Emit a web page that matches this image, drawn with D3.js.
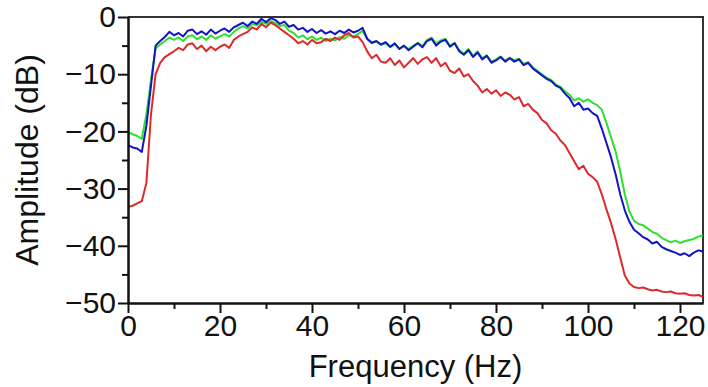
<!DOCTYPE html>
<html>
<head>
<meta charset="utf-8">
<script src="https://cdn.jsdelivr.net/npm/d3@7"></script>
<style>
  body { margin: 0; background: #fff; }
  svg text { font-family: "Liberation Sans", Arial, Helvetica, sans-serif; fill: #111; }
</style>
</head>
<body>
<div id="chart"></div>
<script>

// frequency grid, 1 Hz steps, 0..125
const freq = d3.range(0, 126);

// amplitude (dB) per series
const greenAmp = [
  -20.1, -20.5, -20.8, -21.3, -17.0, -11.0, -5.5, -4.8, -4.2, -3.6,
  -4.0, -3.6, -4.2, -3.4, -3.2, -3.9, -3.4, -4.0, -3.2, -3.8,
  -3.4, -3.0, -3.4, -2.6, -2.0, -1.6, -2.0, -1.2, -1.5, -0.8,
  -1.2, -0.7, -1.0, -1.6, -1.4, -2.4, -2.8, -3.6, -3.2, -3.9,
  -3.4, -4.0, -3.6, -4.2, -3.8, -4.1, -3.5, -3.8, -3.2, -3.4,
  -3.0, -2.4, -3.9, -4.6, -4.3, -4.9, -4.6, -5.3, -4.8, -5.5,
  -5.1, -5.6, -5.0, -4.5, -5.1, -4.0, -3.6, -4.6, -4.1, -3.8,
  -5.0, -4.5, -5.8, -6.4, -5.6, -6.8, -6.0, -7.2, -6.7, -7.8,
  -7.4, -6.9, -7.6, -7.1, -7.6, -7.3, -8.2, -7.9, -8.8, -9.4,
  -10.0, -10.6, -11.0, -11.8, -12.2, -13.0, -13.6, -14.6, -14.2, -14.8,
  -14.4, -15.0, -15.4, -16.2, -18.5, -21.0, -23.5, -27.0, -31.0, -34.0,
  -35.6, -36.2, -36.4, -37.0, -37.6, -37.9, -38.6, -39.0, -39.4, -39.1,
  -39.5, -39.2, -39.0, -38.8, -38.4, -38.2
];

const blueAmp = [
  -22.4, -22.8, -23.0, -23.6, -19.0, -12.0, -5.0, -4.2, -3.5, -2.6,
  -3.2, -2.8, -3.4, -2.4, -2.2, -3.0, -2.5, -3.1, -2.2, -2.9,
  -2.4, -2.0, -2.6, -1.8, -1.4, -1.0, -1.6, -0.8, -1.2, -0.3,
  -0.9, -0.2, -0.5, -1.2, -0.8, -1.7, -1.4, -2.2, -1.9, -2.6,
  -2.1, -2.8, -2.3, -2.9, -2.5, -3.0, -2.4, -2.8, -2.2, -2.7,
  -2.4, -1.9, -3.8, -4.5, -4.2, -4.8, -4.4, -5.2, -4.6, -5.6,
  -5.0, -5.8, -5.2, -4.6, -5.3, -4.2, -3.8, -5.0, -4.3, -4.0,
  -5.2, -4.6, -6.0, -6.6, -5.8, -7.0, -6.2, -7.4, -6.8, -8.0,
  -7.6, -7.0, -7.8, -7.2, -7.8, -7.4, -8.4, -8.0, -9.0, -9.6,
  -10.2, -10.8, -11.2, -12.0, -12.4, -13.4, -14.2, -15.6, -15.0, -16.2,
  -16.0, -16.8, -17.3, -19.5, -22.0, -24.5, -27.5, -31.0, -33.8, -35.8,
  -37.2, -37.8, -38.5, -38.9, -39.6, -39.3, -40.2, -40.6, -40.9, -41.2,
  -41.6, -41.3, -41.8, -41.2, -40.8, -41.0
];

const redAmp = [
  -33.2, -33.0, -32.6, -32.2, -29.0, -17.0, -10.0, -8.0, -7.0, -6.5,
  -6.0, -5.4, -5.8, -4.8, -4.6, -5.6, -5.0, -6.0, -5.2, -5.8,
  -5.2, -4.8, -5.4, -4.0, -3.4, -3.0, -2.6, -1.8, -2.2, -1.2,
  -1.8, -1.0, -1.4, -2.0, -2.6, -3.2, -3.8, -4.6, -4.2, -4.8,
  -4.0, -4.6, -4.4, -3.8, -4.2, -3.6, -4.0, -3.2, -2.8, -3.6,
  -3.4, -4.4, -6.0, -7.2, -6.6, -7.8, -8.0, -7.2, -8.4, -7.6,
  -8.8, -8.0, -7.2, -8.2, -7.4, -7.0, -8.0, -7.2, -8.6, -8.0,
  -9.4, -9.8, -9.0, -10.4, -10.0, -11.2, -12.0, -13.2, -12.6, -13.4,
  -12.8, -13.8, -13.2, -13.6, -14.4, -14.0, -15.6, -15.2, -16.2, -16.8,
  -18.0, -18.6, -19.8, -20.4, -21.6, -22.4, -23.8, -25.2, -26.6, -26.0,
  -27.4, -28.0, -28.8, -31.0, -33.6, -36.0, -38.8, -42.0, -45.2, -46.6,
  -47.2, -47.4, -47.3, -47.6, -47.8, -47.7, -48.0, -48.1, -48.0, -48.3,
  -48.4, -48.3, -48.6, -48.7, -48.6, -48.9
];

const xMajor = [0, 20, 40, 60, 80, 100, 120];
const xMinor = [10, 30, 50, 70, 90, 110];
const yMajor = [0, -10, -20, -30, -40, -50];
const yMinor = [-5, -15, -25, -35, -45];

const series = [
  { name: "green", color: "#2ee02e", values: greenAmp },
  { name: "red", color: "#dc2a2a", values: redAmp },
  { name: "blue", color: "#1414c4", values: blueAmp }
];

const margin = { top: 17, right: 5, bottom: 84, left: 128 };
const width = 708 - margin.left - margin.right;
const height = 387 - margin.top - margin.bottom;

const svg = d3.select("#chart").append("svg")
  .attr("width", 708)
  .attr("height", 387)
  .append("g")
  .attr("transform", "translate(" + margin.left + "," + margin.top + ")");

const x = d3.scaleLinear().domain([0, 125]).range([0, width]);
const y = d3.scaleLinear().domain([-50, 0]).range([height, 0]);

// frame on top and right
svg.append("path")
  .attr("d", "M0,0H" + width + "V" + height)
  .attr("fill", "none")
  .attr("stroke", "#333")
  .attr("stroke-width", 2);

// lines
const line = d3.line()
  .x((d, i) => x(freq[i]))
  .y(d => y(d));

svg.selectAll(".trace")
  .data(series)
  .enter()
  .append("path")
  .attr("class", "trace")
  .attr("fill", "none")
  .attr("stroke", d => d.color)
  .attr("stroke-width", 2)
  .attr("stroke-linejoin", "round")
  .attr("d", d => line(d.values));

// axes
const xAxis = svg.append("g")
  .attr("transform", "translate(0," + height + ")")
  .call(d3.axisBottom(x).tickValues(xMajor).tickSize(10).tickSizeOuter(0).tickPadding(2));
svg.append("g")
  .attr("transform", "translate(0," + height + ")")
  .call(d3.axisBottom(x).tickValues(xMinor).tickSize(6).tickSizeOuter(0).tickFormat(""));

const yAxis = svg.append("g")
  .call(d3.axisLeft(y).tickValues(yMajor).tickSize(10).tickSizeOuter(0).tickPadding(2));
svg.append("g")
  .call(d3.axisLeft(y).tickValues(yMinor).tickSize(6).tickSizeOuter(0).tickFormat(""));

svg.selectAll(".domain").attr("stroke", "#111").attr("stroke-width", 2);
svg.selectAll(".tick line").attr("stroke", "#111").attr("stroke-width", 2);
svg.selectAll(".tick text")
  .style("font-size", "30px")
  .style("font-family", "'Liberation Sans', Arial, sans-serif")
  .attr("fill", "#111");

// axis titles
svg.append("text")
  .attr("x", width / 2)
  .attr("y", height + 74)
  .attr("text-anchor", "middle")
  .style("font-size", "31px")
  .text("Frequency (Hz)");

svg.append("text")
  .attr("transform", "rotate(-90)")
  .attr("x", -height / 2)
  .attr("y", -90)
  .attr("text-anchor", "middle")
  .style("font-size", "32px")
  .text("Amplitude (dB)");

</script>
</body>
</html>
